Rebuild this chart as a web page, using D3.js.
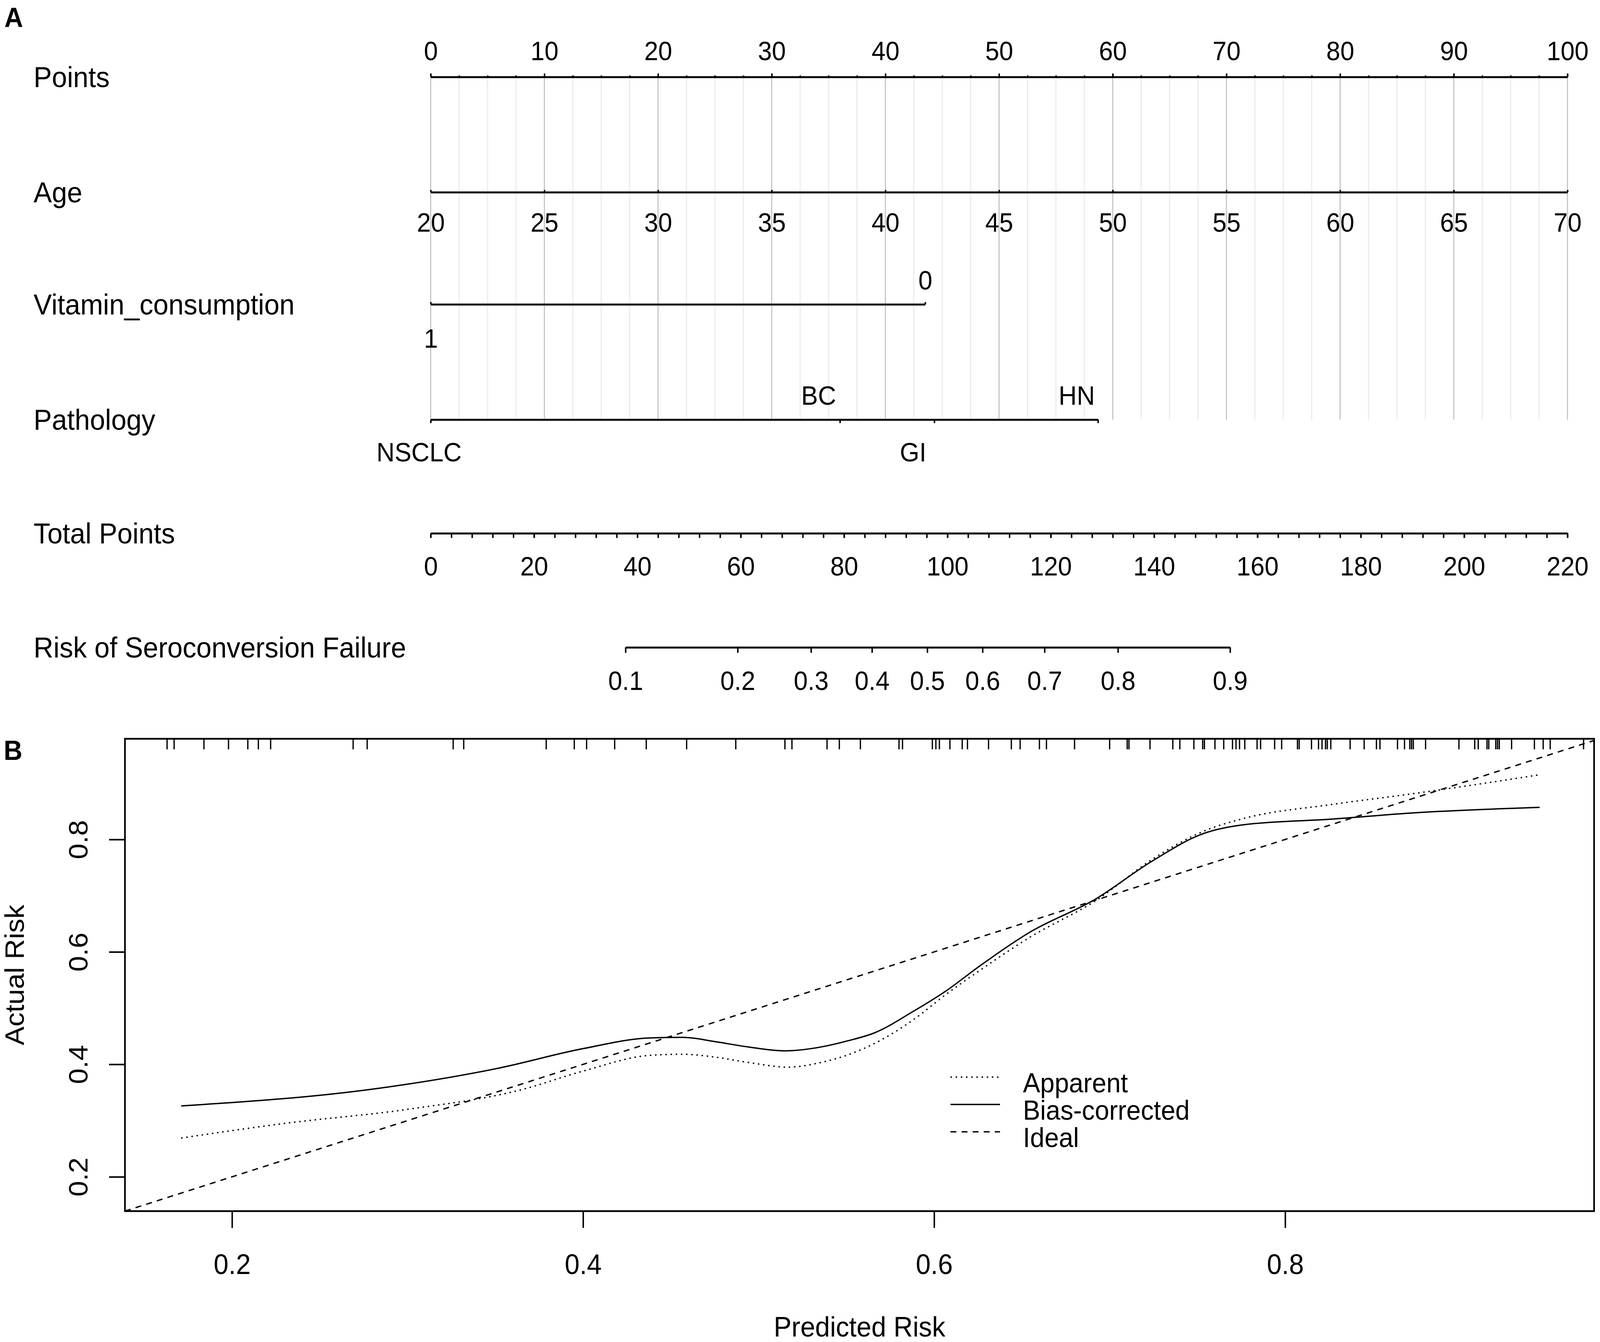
<!DOCTYPE html>
<html>
<head>
<meta charset="UTF-8" />
<title>Nomogram and calibration curve</title>
<script src="https://cdnjs.cloudflare.com/ajax/libs/d3/7.8.5/d3.min.js"></script>
<style>
  html, body { margin: 0; padding: 0; background: #fff; width: 100%; height: 100%; overflow: hidden; }
  svg { display: block; width: 100vw; height: 100vh; font-family: "Liberation Sans", Arial, sans-serif; }
  .axis text { font-family: "Liberation Sans", Arial, sans-serif; fill: #000; }
</style>
</head>
<body>
<svg id="chart" viewBox="0 0 4328 3435" preserveAspectRatio="none"></svg>
<script>
// ---- nomogram (panel A) ----
const rowLabels = ["Points", "Age", "Vitamin_consumption", "Pathology", "Total Points", "Risk of Seroconversion Failure"];
const pointsTicks = [0, 10, 20, 30, 40, 50, 60, 70, 80, 90, 100];
const ageTicks = [20, 25, 30, 35, 40, 45, 50, 55, 60, 65, 70];
const vitaminLevels = ["1", "0"];
const vitaminPoints = [0, 43.5];
const pathologyLevels = ["NSCLC", "BC", "GI", "HN"];
const pathologyPoints = [0, 36.0, 44.3, 58.7];
const totalPointsTicks = [0, 20, 40, 60, 80, 100, 120, 140, 160, 180, 200, 220];
const riskTicks = [0.1, 0.2, 0.3, 0.4, 0.5, 0.6, 0.7, 0.8, 0.9];
const riskTickPoints = [37.7, 59.4, 73.6, 85.4, 96.1, 106.8, 118.8, 133.0, 154.7];

// ---- calibration (panel B) ----
const apparentPred   = [0.171, 0.230, 0.300, 0.365, 0.400, 0.438, 0.457, 0.475, 0.495, 0.517, 0.535, 0.551, 0.569, 0.588, 0.607, 0.626, 0.654, 0.693, 0.724, 0.753, 0.776, 0.826, 0.872, 0.945];
const apparentActual = [0.269, 0.295, 0.320, 0.355, 0.388, 0.416, 0.418, 0.413, 0.403, 0.395, 0.403, 0.417, 0.442, 0.479, 0.525, 0.567, 0.625, 0.693, 0.764, 0.814, 0.837, 0.862, 0.881, 0.915];
const biasPred   = [0.171, 0.285, 0.353, 0.400, 0.438, 0.457, 0.476, 0.494, 0.515, 0.532, 0.551, 0.566, 0.588, 0.607, 0.626, 0.654, 0.692, 0.724, 0.753, 0.776, 0.826, 0.872, 0.945];
const biasActual = [0.326, 0.358, 0.394, 0.428, 0.447, 0.448, 0.440, 0.431, 0.424, 0.429, 0.442, 0.456, 0.494, 0.531, 0.575, 0.634, 0.694, 0.761, 0.810, 0.826, 0.836, 0.847, 0.857];
const xTicks = [0.2, 0.4, 0.6, 0.8];
const yTicks = [0.2, 0.4, 0.6, 0.8];
const legendLabels = ["Apparent", "Bias-corrected", "Ideal"];
const rugPredicted = [
  0.163, 0.167, 0.184, 0.198, 0.209, 0.215, 0.222, 0.269, 0.277, 0.326, 0.332, 0.379, 0.395, 0.402, 0.418,
  0.436, 0.459, 0.487, 0.515, 0.519, 0.539, 0.546, 0.558, 0.580, 0.582, 0.599, 0.601, 0.603, 0.609, 0.616,
  0.619, 0.631, 0.644, 0.649, 0.660, 0.664, 0.680, 0.700, 0.710, 0.711, 0.723, 0.736, 0.740, 0.748, 0.753,
  0.754, 0.760, 0.765, 0.770, 0.772, 0.774, 0.777, 0.784, 0.786, 0.794, 0.798, 0.807, 0.808, 0.815, 0.819,
  0.821, 0.823, 0.824, 0.826, 0.837, 0.845, 0.852, 0.854, 0.864, 0.868, 0.871, 0.872, 0.873, 0.880, 0.899,
  0.908, 0.910, 0.915, 0.916, 0.920, 0.921, 0.922, 0.929, 0.942, 0.947, 0.951, 0.970
];

const svg = d3.select("#chart");

// panel letters
svg.append("text").attr("x", 12).attr("y", 69).attr("font-size", 70).attr("font-weight", "bold").text("A");
svg.append("text").attr("x", 10).attr("y", 1945).attr("font-size", 70).attr("font-weight", "bold").text("B");

// ===== Panel A =====
const x0 = 1165, x1 = 4240;
const rowY = [197, 492, 779, 1074, 1365, 1657];
const tickFont = 68, rowFont = 74, axisW = 5;

const pts = d3.scaleLinear().domain([0, 100]).range([x0, x1]);
const total = d3.scaleLinear().domain([0, 220]).range([x0, x1]);
const age = d3.scaleLinear().domain([20, 70]).range([pts(0), pts(100)]);

// grid
const gGrid = svg.append("g");
gGrid.selectAll("line")
  .data(d3.range(0, 100.01, 2.5))
  .join("line")
  .attr("x1", d => pts(d)).attr("x2", d => pts(d))
  .attr("y1", rowY[0]).attr("y2", rowY[3])
  .attr("stroke", d => d % 10 === 0 ? "#c4c4c4" : "#ebebeb")
  .attr("stroke-width", 3);

// row labels
svg.append("g").selectAll("text")
  .data(rowLabels)
  .join("text")
  .attr("x", 91)
  .attr("y", (d, i) => rowY[i] + 26)
  .attr("font-size", rowFont)
  .text(d => d);

function styleAxis(g, textY) {
  g.attr("class", "axis");
  g.select(".domain").attr("stroke", "#000").attr("stroke-width", axisW);
  g.selectAll(".tick line").attr("stroke", "#000").attr("stroke-width", 4);
  g.selectAll(".tick text").attr("font-size", tickFont).attr("dy", null).attr("y", textY);
}

// Points
svg.append("g").attr("transform", `translate(0,${rowY[0]})`)
  .call(d3.axisTop(pts).tickValues(d3.range(0, 100.01, 2.5)).tickSize(4).tickSizeOuter(0).tickFormat(""))
  .call(g => styleAxis(g, 0));
svg.append("g").attr("transform", `translate(0,${rowY[0]})`)
  .call(d3.axisTop(pts).tickValues(pointsTicks).tickSize(9).tickSizeOuter(0))
  .call(g => styleAxis(g, -43));

// Age
svg.append("g").attr("transform", `translate(0,${rowY[1]})`)
  .call(d3.axisTop(age).tickValues(ageTicks).tickSize(6).tickSizeOuter(0))
  .call(g => styleAxis(g, 101));

// Vitamin consumption
const vitScale = pts.copy().domain([0, d3.max(vitaminPoints)]).range([pts(0), pts(d3.max(vitaminPoints))]);
svg.append("g").attr("transform", `translate(0,${rowY[2]})`)
  .call(d3.axisTop(vitScale).tickValues(vitaminPoints).tickSize(6).tickSizeOuter(0)
    .tickFormat((d, i) => vitaminLevels[i]))
  .call(g => styleAxis(g, 0))
  .call(g => g.selectAll(".tick text").attr("y", (d, i) => i % 2 === 0 ? 111 : -38));

// Pathology
const pathScale = pts.copy().domain([0, d3.max(pathologyPoints)]).range([pts(0), pts(d3.max(pathologyPoints))]);
svg.append("g").attr("transform", `translate(0,${rowY[3]})`)
  .call(d3.axisBottom(pathScale).tickValues(pathologyPoints).tickSize(9).tickSizeOuter(0)
    .tickFormat((d, i) => pathologyLevels[i]))
  .call(g => styleAxis(g, 0))
  .call(g => g.selectAll(".tick text")
    .attr("y", (d, i) => i % 2 === 0 ? 107 : -38)
    .attr("x", (d, i) => i === 0 ? -32 : -58));

// Total points
svg.append("g").attr("transform", `translate(0,${rowY[4]})`)
  .call(d3.axisBottom(total).tickValues(d3.range(0, 220.01, 4)).tickSize(12).tickSizeOuter(0).tickFormat(""))
  .call(g => styleAxis(g, 0));
svg.append("g").attr("transform", `translate(0,${rowY[4]})`)
  .call(d3.axisBottom(total).tickValues(totalPointsTicks).tickSize(12).tickSizeOuter(0))
  .call(g => styleAxis(g, 108));

// Risk
const riskScale = total.copy()
  .domain([d3.min(riskTickPoints), d3.max(riskTickPoints)])
  .range([total(d3.min(riskTickPoints)), total(d3.max(riskTickPoints))]);
svg.append("g").attr("transform", `translate(0,${rowY[5]})`)
  .call(d3.axisBottom(riskScale).tickValues(riskTickPoints).tickSize(14).tickSizeOuter(0)
    .tickFormat((d, i) => riskTicks[i].toFixed(1)))
  .call(g => styleAxis(g, 109));

// ===== Panel B =====
const bL = 338, bR = 4312, bT = 1891, bB = 3100;
const xs = d3.scaleLinear().domain([0.139, 0.976]).range([bL, bR]);
const ys = d3.scaleLinear().domain([0.139, 0.979]).range([bB, bT]);
const bFont = 72;

svg.append("defs").append("clipPath").attr("id", "plotClip")
  .append("rect").attr("x", bL).attr("y", bT).attr("width", bR - bL).attr("height", bB - bT);

const gx = svg.append("g").attr("transform", `translate(0,${bB})`)
  .call(d3.axisBottom(xs).tickValues(xTicks).tickSize(43).tickSizeOuter(0).tickFormat(d3.format(".1f")));
gx.select(".domain").remove();
gx.selectAll(".tick line").attr("stroke", "#000").attr("stroke-width", 4);
gx.selectAll(".tick text").attr("font-size", bFont).attr("dy", null).attr("y", 161)
  .attr("font-family", "Liberation Sans, Arial, sans-serif").attr("fill", "#000");

const gy = svg.append("g").attr("transform", `translate(${bL},0)`)
  .call(d3.axisLeft(ys).tickValues(yTicks).tickSize(43).tickSizeOuter(0).tickFormat(d3.format(".1f")));
gy.select(".domain").remove();
gy.selectAll(".tick line").attr("stroke", "#000").attr("stroke-width", 4);
gy.selectAll(".tick text").attr("font-size", bFont).attr("dy", null)
  .attr("x", null).attr("y", null)
  .attr("text-anchor", "middle")
  .attr("transform", "translate(-101,0) rotate(-90)")
  .attr("font-family", "Liberation Sans, Arial, sans-serif").attr("fill", "#000");

// rug of predicted values
svg.append("g").selectAll("line")
  .data(rugPredicted)
  .join("line")
  .attr("x1", d => xs(d)).attr("x2", d => xs(d))
  .attr("y1", bT).attr("y2", bT + 27)
  .attr("stroke", "#000").attr("stroke-width", 3.5);

const lineGen = d3.line().x(d => xs(d[0])).y(d => ys(d[1])).curve(d3.curveMonotoneX);
const plot = svg.append("g").attr("clip-path", "url(#plotClip)");

plot.append("path")
  .datum([[0.139, 0.139], [0.979, 0.979]])
  .attr("d", lineGen).attr("fill", "none").attr("stroke", "#000")
  .attr("stroke-width", 3.5).attr("stroke-dasharray", "16,14");

plot.append("path")
  .datum(d3.zip(apparentPred, apparentActual))
  .attr("d", lineGen).attr("fill", "none").attr("stroke", "#000")
  .attr("stroke-width", 3.5).attr("stroke-dasharray", "4,10");

plot.append("path")
  .datum(d3.zip(biasPred, biasActual))
  .attr("d", lineGen).attr("fill", "none").attr("stroke", "#000")
  .attr("stroke-width", 3.5);

// box
svg.append("rect").attr("x", bL).attr("y", bT).attr("width", bR - bL).attr("height", bB - bT)
  .attr("fill", "none").attr("stroke", "#000").attr("stroke-width", 4.5);

// legend
const dashes = ["4,10", null, "16,14"];
const lg = svg.append("g").selectAll("g").data(legendLabels).join("g")
  .attr("transform", (d, i) => `translate(2571,${2757 + i * 70})`);
lg.append("line").attr("x1", 0).attr("x2", 134)
  .attr("stroke", "#000").attr("stroke-width", 3.5)
  .attr("stroke-dasharray", (d, i) => dashes[i]);
lg.append("text").attr("x", 196).attr("y", 39).attr("font-size", 70).text(d => d);

// axis titles
svg.append("text").attr("x", (bL + bR) / 2).attr("y", 3421).attr("text-anchor", "middle")
  .attr("font-size", bFont).text("Predicted Risk");
svg.append("text").attr("transform", `translate(64,${(bT + bB) / 2}) rotate(-90)`)
  .attr("text-anchor", "middle").attr("font-size", bFont).text("Actual Risk");
</script>
</body>
</html>
